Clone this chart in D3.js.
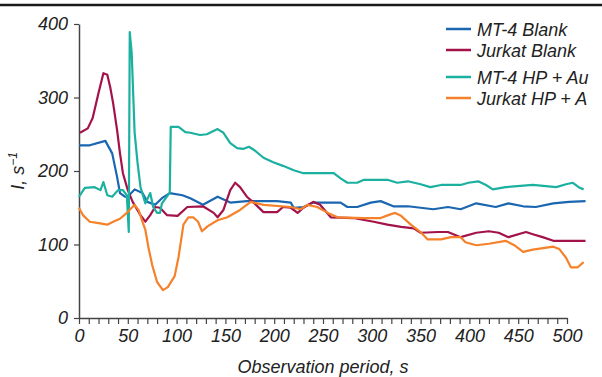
<!DOCTYPE html>
<html>
<head>
<meta charset="utf-8">
<script src="https://cdn.jsdelivr.net/npm/d3@7"></script>
<style>
  body { margin: 0; background: #fff; }
  svg { display: block; }
</style>
</head>
<body>
<svg id="chart"></svg>
<script>
// [time s, I s^-1]
const mt4Blank = [[0,235],[11,235],[27,241],[34,224],[39,192],[42,170],[47,165],[50,165],[57,175],[65,170],[70,158],[78,154],[85,163],[93,170],[106,167],[114,163],[127,154],[142,165],[155,157],[172,159],[203,159],[217,157],[220,150],[230,151],[240,157],[268,157],[275,151],[285,151],[299,157],[309,159],[322,152],[337,152],[350,150],[363,148],[378,151],[391,148],[407,156],[427,151],[440,156],[455,152],[468,151],[486,156],[502,158],[519,159]];
const jurkatBlank = [[1,252],[9,258],[14,272],[20,306],[25,333],[29,331],[32,314],[35,292],[39,256],[42,224],[45,197],[50,174],[55,158],[63,140],[68,131],[73,140],[78,151],[83,150],[90,140],[101,139],[111,151],[127,152],[138,143],[142,137],[148,147],[155,174],[160,184],[165,178],[172,165],[179,157],[189,144],[203,144],[209,151],[217,150],[224,143],[230,150],[240,158],[247,154],[258,137],[281,136],[302,131],[316,127],[330,124],[343,122],[350,116],[368,117],[378,117],[391,110],[407,116],[420,118],[430,116],[440,110],[458,117],[465,114],[475,110],[486,105],[519,105]];
const mt4HpAu = [[0,165],[6,177],[16,178],[22,174],[25,185],[29,167],[34,165],[40,174],[45,174],[49,167],[51,117],[52,389],[54,360],[57,252],[60,211],[63,178],[68,156],[73,170],[76,151],[80,143],[83,143],[85,156],[91,167],[93,171],[94,260],[102,260],[109,253],[114,252],[124,249],[131,250],[142,257],[148,252],[155,238],[162,231],[168,230],[174,233],[179,229],[189,218],[199,212],[209,207],[220,201],[230,197],[261,197],[268,190],[275,184],[285,184],[292,188],[316,188],[326,184],[337,186],[350,182],[360,178],[371,181],[391,181],[399,184],[409,186],[417,181],[424,175],[437,178],[465,181],[489,178],[499,182],[506,184],[512,178],[517,175]];
const jurkatHpA = [[0,150],[4,140],[11,131],[20,129],[29,127],[35,131],[42,135],[49,143],[54,150],[57,154],[61,147],[65,131],[68,120],[71,97],[75,72],[80,49],[86,38],[91,42],[98,57],[102,83],[107,127],[112,137],[117,137],[122,131],[126,118],[132,125],[142,133],[152,137],[165,147],[176,158],[189,154],[217,151],[227,148],[234,154],[244,151],[255,143],[265,137],[292,136],[309,136],[319,141],[324,143],[330,139],[340,127],[350,117],[357,107],[371,107],[381,110],[391,110],[396,103],[407,99],[420,101],[437,105],[446,99],[455,90],[465,93],[486,97],[492,94],[499,82],[504,69],[511,69],[517,76]];

const seriesNames = ["MT-4 Blank", "Jurkat Blank", "MT-4 HP + Au", "Jurkat HP + A"];
const seriesData = [mt4Blank, jurkatBlank, mt4HpAu, jurkatHpA];
const seriesColors = ["#1a66b0", "#a3134a", "#1bb0a0", "#f5822a"];
const yTicks = [0, 100, 200, 300, 400];
const xLabelTicks = [0, 50, 100, 150, 200, 250, 300, 350, 400, 450, 500];

const width = 602, height = 377;
const font = "'Liberation Sans', Arial, sans-serif";

const svg = d3.select("#chart")
    .attr("width", width)
    .attr("height", height)
    .style("font-family", font)
    .style("font-style", "italic");

const x = d3.scaleLinear().domain([0, 500]).range([79, 567]);
const y = d3.scaleLinear().domain([0, 400]).range([318, 24]);

// rule left over from the table above the figure
svg.append("line")
    .attr("x1", 0).attr("x2", width)
    .attr("y1", 5).attr("y2", 5)
    .attr("stroke", "#1a1a1a")
    .attr("stroke-width", 2.5);

const yAxis = svg.append("g")
    .attr("transform", `translate(${x(0)},0)`)
    .call(d3.axisLeft(y).tickValues(yTicks).tickSize(5).tickSizeOuter(0).tickPadding(6));

const xAxis = svg.append("g")
    .attr("transform", `translate(0,${y(0)})`)
    .call(d3.axisBottom(x).ticks(50).tickSize(6).tickSizeOuter(0).tickFormat(""));

xAxis.selectAll(".tick")
    .filter(d => xLabelTicks.includes(d))
    .append("text")
    .attr("y", 24)
    .attr("fill", "#222")
    .text(d => d);

[yAxis, xAxis].forEach(g => {
    g.select(".domain").attr("stroke", "#444").attr("stroke-width", 1.5);
    g.selectAll(".tick line").attr("stroke", "#444").attr("stroke-width", 1.2);
    g.selectAll("text")
        .attr("fill", "#222")
        .style("font-size", "18px")
        .style("font-family", font)
        .style("font-style", "italic");
});

const line = d3.line()
    .x(d => x(d[0]))
    .y(d => y(d[1]));

svg.selectAll(".series")
    .data(seriesData)
    .join("path")
    .attr("class", "series")
    .attr("fill", "none")
    .attr("stroke", (d, i) => seriesColors[i])
    .attr("stroke-width", 2.2)
    .attr("stroke-linejoin", "round")
    .attr("d", line);

// legend
const legendBase = [36, 57, 84, 105];
const legend = svg.selectAll(".legend")
    .data(seriesNames)
    .join("g")
    .attr("class", "legend")
    .attr("transform", (d, i) => `translate(446,${legendBase[i]})`);

legend.append("line")
    .attr("x1", 0).attr("x2", 25)
    .attr("y1", -7).attr("y2", -7)
    .attr("stroke", (d, i) => seriesColors[i])
    .attr("stroke-width", 2.5);

legend.append("text")
    .attr("x", 31)
    .attr("fill", "#222")
    .style("font-size", "18px")
    .text(d => d);

// axis titles
svg.append("text")
    .attr("x", (x(0) + x(500)) / 2)
    .attr("y", 373)
    .attr("text-anchor", "middle")
    .attr("fill", "#222")
    .style("font-size", "18px")
    .text("Observation period, s");

const yTitle = svg.append("text")
    .attr("transform", "translate(24,171) rotate(-90)")
    .attr("text-anchor", "middle")
    .attr("fill", "#222")
    .style("font-size", "18px");
yTitle.append("tspan").text("I, s");
yTitle.append("tspan").attr("dy", -7).style("font-size", "12px").text("−1");
</script>
</body>
</html>
